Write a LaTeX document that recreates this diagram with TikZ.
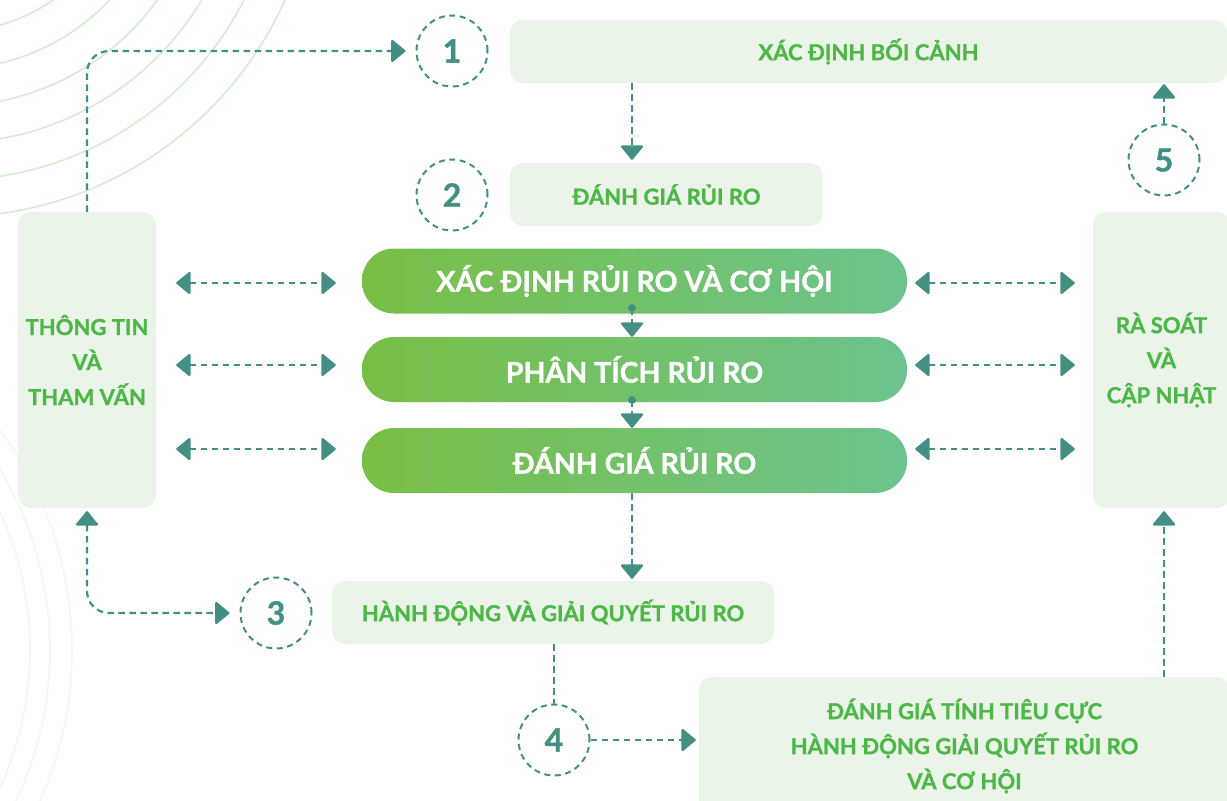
\documentclass[tikz,border=0pt]{standalone}
\usepackage{fontspec}
\setmainfont{Lato}[BoldFeatures={FakeBold=1.2}]
\usetikzlibrary{arrows.meta,calc}
\definecolor{teal1}{HTML}{448F84}
\definecolor{boxbg}{HTML}{EBF4E8}
\definecolor{gtxt}{HTML}{4DB848}
\definecolor{pillL}{HTML}{79BF45}
\definecolor{pillR}{HTML}{6CC38E}
\definecolor{arcc}{HTML}{D6ECD4}
\definecolor{arcf}{HTML}{F2F8F1}
\tikzset{
  ttip/.tip={Triangle[width=24pt,length=15pt,round]},
  lbx/.style={fill=boxbg, rounded corners=13pt, inner sep=0pt, text=gtxt,
    font=\bfseries\fontsize{22}{35}\selectfont, align=center},
  pill/.style={rounded corners=32pt, left color=pillL, right color=pillR,
    minimum width=545pt, minimum height=65pt, text=white, inner sep=0pt,
    font=\bfseries\fontsize{28.5}{30}\selectfont},
  numc/.style={circle, draw=teal1, line width=2pt, dash pattern=on 6pt off 4.5pt,
    minimum size=71pt, inner sep=0pt, text=teal1, font=\bfseries\fontsize{32}{32}\selectfont},
  conn/.style={draw=teal1, line width=2.2pt, dash pattern=on 6.5pt off 4.5pt, -ttip},
  dconn/.style={draw=teal1, line width=2.2pt, dash pattern=on 6.5pt off 4.5pt, ttip-ttip},
  plain/.style={draw=teal1, line width=2.2pt, dash pattern=on 6.5pt off 4.5pt},
}
\begin{document}
\begin{tikzpicture}[x=1pt,y=-1pt]
\useasboundingbox (0,0) rectangle (1227,801);
\fill[white] (0,0) rectangle (1227,801);
\begin{scope}
\clip (0,0) rectangle (1227,801);
\foreach \r in {145,182,219,256,293,330,367}
  \draw[arcc, line width=1.6pt] (-50,-150) circle (\r);
\foreach \r in {330,350,372}
  \draw[arcf, line width=1.6pt] (-300,650) circle (\r);
\end{scope}

% light boxes
\node[lbx, minimum width=717pt, minimum height=63pt] (tbox) at (868.5,51.5) {XÁC ĐỊNH BỐI CẢNH};
\node[lbx, minimum width=313pt, minimum height=63pt] (b2) at (666.5,194.5) {ĐÁNH GIÁ RỦI RO};
\node[lbx, minimum width=138pt, minimum height=296pt] (lbox) at (87,360) {THÔNG TIN\\VÀ\\THAM VẤN};
\node[lbx, minimum width=137pt, minimum height=296pt] (rbox) at (1161.5,360) {RÀ SOÁT\\VÀ\\CẬP NHẬT};
\node[lbx, minimum width=442pt, minimum height=63pt] (hbox) at (553,612.5) {HÀNH ĐỘNG VÀ GIẢI QUYẾT RỦI RO};
\node[lbx, minimum width=531pt, minimum height=138pt] (brbox) at (964.5,746) {ĐÁNH GIÁ TÍNH TIÊU CỰC\\HÀNH ĐỘNG GIẢI QUYẾT RỦI RO\\VÀ CƠ HỘI};

% pills
\node[pill] (p1) at (634.5,281) {XÁC ĐỊNH RỦI RO VÀ CƠ HỘI};
\node[pill] (p2) at (634.5,369.5) {PHÂN TÍCH RỦI RO};
\node[pill] (p3) at (634.5,460.5) {ĐÁNH GIÁ RỦI RO};

% circles
\node[numc] (c1) at (452,51) {1};
\node[numc] (c2) at (452,195) {2};
\node[numc] (c3) at (276,613) {3};
\node[numc] (c4) at (554,740) {4};
\node[numc] (c5) at (1164,160) {5};

\coordinate (colx) at (632,0);
\coordinate (d1) at (632,308);
\coordinate (d2) at (632,400);
\coordinate (a1) at (0,283);
\coordinate (a2) at (0,365);
\coordinate (a3) at (0,449);

% connectors
\draw[conn, rounded corners=22pt, shorten >=10pt] (lbox.north) |- (c1.west);
\draw[conn, shorten >=3pt] (tbox.south -| colx) -- (b2.north -| colx);
\fill[teal1] (d1) circle (4pt);
\draw[conn] (d1) -- (p2.north -| d1);
\fill[teal1] (d2) circle (4pt);
\draw[conn] (d2) -- (p3.north -| d2);
\draw[conn, shorten >=2pt] (p3.south -| colx) -- (hbox.north -| colx);
\draw[plain] (hbox.south -| c4) -- (c4.north);
\draw[conn, shorten >=3pt] (c4.east) -- (brbox.west |- c4);
\draw[conn, shorten >=3pt] (brbox.north -| c5) -- (rbox.south -| c5);
\draw[conn, shorten >=1pt] (c5.north) -- (tbox.south -| c5);
\draw[dconn, rounded corners=22pt, shorten <=3pt, shorten >=10pt] (lbox.south) |- (c3.west);

\foreach \a in {a1,a2,a3}{
  \draw[dconn, shorten <=20pt, shorten >=26pt] (lbox.east |- \a) -- (p1.west |- \a);
  \draw[dconn, shorten <=8pt, shorten >=18pt] (p1.east |- \a) -- (rbox.west |- \a);
}
\end{tikzpicture}
\end{document}
